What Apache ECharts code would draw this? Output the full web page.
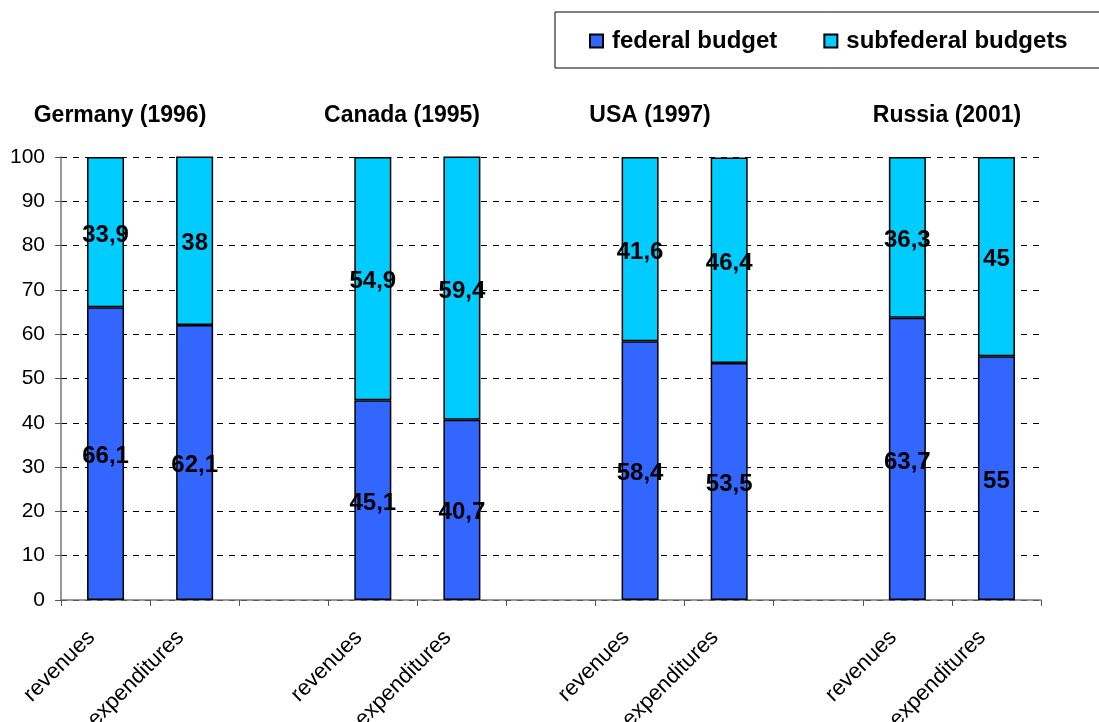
<!DOCTYPE html>
<html>
<head>
<meta charset="utf-8">
<script src="https://cdn.jsdelivr.net/npm/echarts@6/dist/echarts.min.js"></script>
<style>html,body{margin:0;padding:0;background:#fff;}#c{width:1099px;height:722px;}</style>
</head>
<body>
<div id="c"></div>
<script>
const categories = ['revenues','expenditures','','revenues','expenditures','','revenues','expenditures','','revenues','expenditures'];
const federal = [66.1, 62.1, null, 45.1, 40.7, null, 58.4, 53.5, null, 63.7, 55];
const subfederal = [33.9, 38, null, 54.9, 59.4, null, 41.6, 46.4, null, 36.3, 45];
const groupTitles = ['Germany (1996)', 'Canada (1995)', 'USA (1997)', 'Russia (2001)'];
const titleX = [120, 402, 650, 947];
const yTicks = [0,10,20,30,40,50,60,70,80,90,100];

const FONT = '"Liberation Sans", Arial, sans-serif';
const chart = echarts.init(document.getElementById('c'));
const lbl = {
  show: true, position: 'inside', offset: [0, 3], color: '#000', fontFamily: FONT, fontWeight: 'bold', fontSize: 24,
  formatter: p => p.value == null ? '' : String(p.value).replace('.', ',')
};
chart.setOption({
  animation: false,
  backgroundColor: '#fff',
  grid: {left: 61, right: 58, top: 157, bottom: 122, containLabel: false, outerBoundsMode: 'none'},
  legend: {
    left: 555, top: 12, width: 520, orient: 'horizontal',
    data: ['federal budget', 'subfederal budgets'],
    icon: 'rect', itemWidth: 13, itemHeight: 13, itemGap: 46,
    padding: [17, 60, 15, 34],
    borderColor: '#000', borderWidth: 1,
    textStyle: {fontFamily: FONT, fontWeight: 'bold', fontSize: 24, color: '#000', padding: [2,0,0,4]}
  },
  graphic: groupTitles.map((t, i) => ({
    type: 'text', x: titleX[i], y: 116,
    style: {text: t, align: 'center', verticalAlign: 'middle', font: 'bold 23px ' + FONT, fill: '#000'}
  })),
  xAxis: {
    type: 'category', data: categories,
    axisLine: {lineStyle: {color: '#777', width: 1.5}},
    axisTick: {show: true, length: 6, lineStyle: {color: '#555'}},
    axisLabel: {rotate: 45, interval: 0, margin: 20, fontFamily: FONT, fontSize: 22, color: '#000', padding: [0, 20, 0, 0]}
  },
  yAxis: {
    type: 'value', min: 0, max: 100, interval: 10,
    axisLine: {show: true, lineStyle: {color: '#777', width: 1.5}},
    axisTick: {show: true, length: 6, lineStyle: {color: '#555'}},
    axisLabel: {fontFamily: FONT, fontSize: 21, color: '#000', margin: 16,
      formatter: v => yTicks.includes(v) ? String(v) : ''},
    splitLine: {show: true, lineStyle: {color: '#000', type: [6, 6], width: 1}}
  },
  series: [
    {name: 'federal budget', type: 'bar', stack: 's', data: federal, barWidth: 37,
     itemStyle: {color: '#3366FF', borderColor: '#000', borderWidth: 1.5}, label: lbl},
    {name: 'subfederal budgets', type: 'bar', stack: 's', data: subfederal, barWidth: 37,
     itemStyle: {color: '#00CCFF', borderColor: '#000', borderWidth: 1.5}, label: lbl}
  ]
});
</script>
</body>
</html>
